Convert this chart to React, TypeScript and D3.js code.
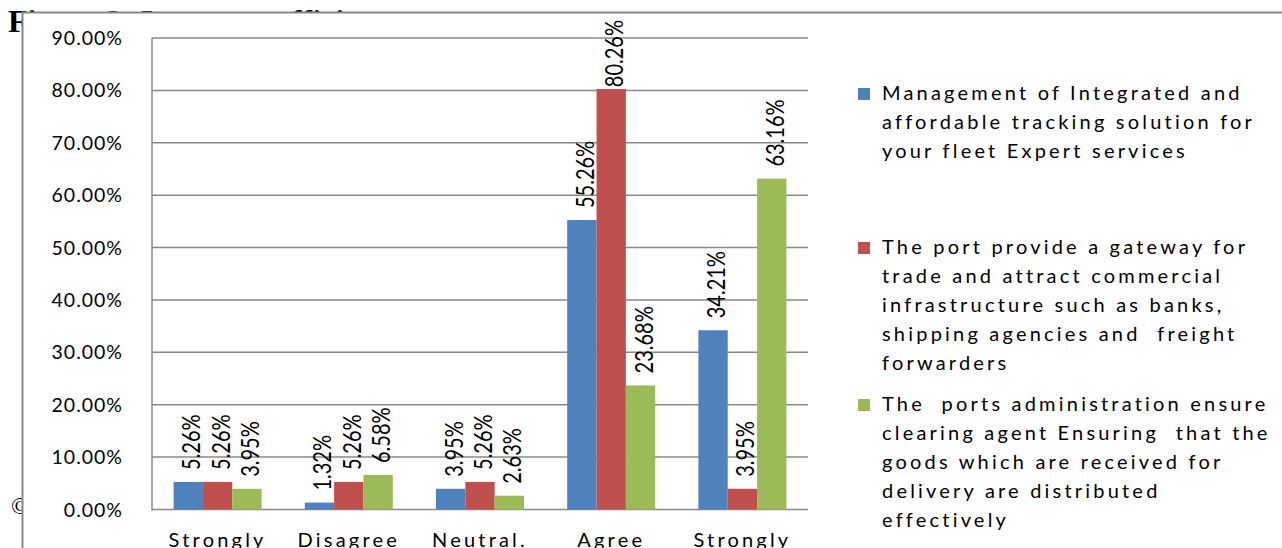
import React, { useEffect, useRef } from "react";
import * as d3 from "d3";

const categories = ["Strongly Disagree", "Disagree", "Neutral.", "Agree", "Strongly Agree"];
const seriesNames = [
  "Management of Integrated and affordable tracking solution for your fleet Expert services",
  "The port provide a gateway for trade and attract commercial infrastructure such as banks, shipping agencies and  freight forwarders",
  "The  ports administration ensure clearing agent Ensuring  that the goods which are received for delivery are distributed effectively",
];
const legendLines = [
  ["Management of Integrated and", "affordable tracking solution for", "your fleet Expert services"],
  ["The port provide a gateway for", "trade and attract commercial", "infrastructure such as banks,", "shipping agencies and  freight", "forwarders"],
  ["The  ports administration ensure", "clearing agent Ensuring  that the", "goods which are received for", "delivery are distributed", "effectively"],
];
const categoryLines = [["Strongly", "Disagree"], ["Disagree"], ["Neutral."], ["Agree"], ["Strongly", "Agree"]];
const seriesA = [5.26, 1.32, 3.95, 55.26, 34.21];
const seriesB = [5.26, 5.26, 5.26, 80.26, 3.95];
const seriesC = [3.95, 6.58, 2.63, 23.68, 63.16];
const yTicks = [0, 10, 20, 30, 40, 50, 60, 70, 80, 90];
const colors = ["#4F81BD", "#C0504D", "#9BBB59"];

export default function App() {
  const ref = useRef<SVGSVGElement | null>(null);
  useEffect(() => {
    document.body.style.margin = "0";
    const svg = d3.select(ref.current);
    svg.selectAll("*").remove();
    const W = 1282, H = 548;
    const font = "Lato, 'DejaVu Sans', sans-serif";

    // background title partially hidden by the chart frame
    svg.append("text").attr("x", 8).attr("y", 32).attr("font-family", "'Liberation Serif', serif")
      .attr("font-weight", "bold").attr("font-size", 32).text("Figure 3: Impact coefficients");
    svg.append("text").attr("x", 11).attr("y", 514).attr("font-family", "'Liberation Serif', serif")
      .attr("font-size", 24).text("©");

    // frame
    svg.append("rect").attr("x", 22.5).attr("y", 12.5).attr("width", W).attr("height", H)
      .attr("fill", "#fff").attr("stroke", "#888").attr("stroke-width", 2);

    const left = 152, right = 808, top = 38, bottom = 509.5;
    const y = d3.scaleLinear().domain([0, 90]).range([bottom, top]);
    const x0 = d3.scaleBand().domain(categories).range([left, right]).paddingInner(0).paddingOuter(0);
    const groupW = 88;
    const x1 = d3.scaleBand().domain(["0", "1", "2"]).range([0, groupW]);

    const g = svg.append("g");
    g.selectAll("line.grid").data(yTicks.filter(t => t > 0)).enter().append("line")
      .attr("x1", left).attr("x2", right).attr("y1", d => y(d)).attr("y2", d => y(d))
      .attr("stroke", "#888").attr("stroke-width", 1.5);
    g.append("line").attr("x1", left).attr("x2", left).attr("y1", top).attr("y2", bottom + 1)
      .attr("stroke", "#888").attr("stroke-width", 1.5);
    g.append("line").attr("x1", left).attr("x2", right).attr("y1", bottom).attr("y2", bottom)
      .attr("stroke", "#888").attr("stroke-width", 1.5);

    g.selectAll("text.yt").data(yTicks).enter().append("text")
      .attr("x", 123).attr("y", d => y(d)).attr("dy", "0.36em").attr("text-anchor", "end")
      .attr("font-family", font).attr("font-size", 19.5).attr("letter-spacing", 1).attr("fill", "#000")
      .text(d => d.toFixed(2) + "%");

    const series = [seriesA, seriesB, seriesC];
    const sx = 0.8;
    series.forEach((vals, si) => {
      vals.forEach((v, ci) => {
        const cx = (x0(categories[ci]) as number) + x0.bandwidth() / 2 - groupW / 2 + (x1(String(si)) as number);
        const bw = x1.bandwidth();
        g.append("rect").attr("x", cx).attr("y", y(v)).attr("width", bw).attr("height", bottom - y(v))
          .attr("fill", colors[si]);
        const lbl = g.append("text").attr("font-family", font).attr("font-size", 25).attr("font-weight", 400)
          .attr("fill", "#000").attr("dy", "0.36em").text(v.toFixed(2) + "%");
        const len = (lbl.node() as SVGTextElement).getComputedTextLength() * sx;
        let base = y(v) - 12;
        if (base - len < 20) base = 20 + len;
        lbl.attr("transform", `translate(${cx + bw / 2 + 3},${base}) rotate(-90) scale(${sx},1)`);
      });
    });

    categories.forEach((c, ci) => {
      const cx = (x0(c) as number) + x0.bandwidth() / 2;
      categoryLines[ci].forEach((line, li) => {
        g.append("text").attr("x", cx).attr("y", 547 + li * 28).attr("text-anchor", "middle")
          .attr("font-family", font).attr("font-size", 20).attr("letter-spacing", 3.2).text(line);
      });
    });

    const legendTops = [100, 254, 411];
    legendLines.forEach((lines, si) => {
      const lg = svg.append("g").attr("aria-label", seriesNames[si]);
      lg.append("rect").attr("x", 858).attr("y", legendTops[si] - 12).attr("width", 12).attr("height", 12)
        .attr("fill", colors[si]);
      lines.forEach((ln, li) => {
        lg.append("text").attr("x", 882).attr("y", legendTops[si] + li * 29)
          .attr("font-family", font).attr("font-size", 20).attr("letter-spacing", 3.2)
          .style("white-space", "pre").text(ln);
      });
    });
  }, []);
  return <svg ref={ref} width={1282} height={548} style={{ display: "block" }} />;
}
